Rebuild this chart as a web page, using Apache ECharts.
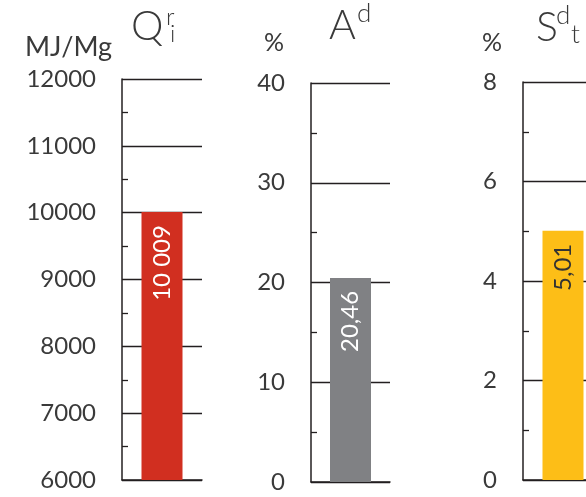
<!DOCTYPE html>
<html>
<head>
<meta charset="utf-8">
<script src="https://cdn.jsdelivr.net/npm/echarts@6/dist/echarts.min.js"></script>
<style>
  html, body { margin: 0; padding: 0; background: #fff; }
  #chart { width: 586px; height: 497px; }
</style>
</head>
<body>
<div id="chart"></div>
<script>
// Three fuel-quality indicators, each on its own small panel
const indicators = ['Qri', 'Ad', 'Sdt'];
const values = [10009, 20.46, 5.01];
const units = ['MJ/Mg', '%', '%'];
const axisMin = [6000, 0, 0];
const axisMax = [12000, 40, 8];
const axisStep = [1000, 10, 2];
const barColors = ['#D12F20', '#808184', '#FDBE17'];
const labelColors = ['#ffffff', '#ffffff', '#333333'];

const FONT = 'Lato, "Open Sans", sans-serif';
const INK = '#231F20';
const TEXT = '#3a3a3a';

// Panel frames (pixel layout)
const panels = [
  { left: 122, top: 79, width: 80, height: 401 },
  { left: 311, top: 83, width: 79, height: 399 },
  { left: 523, top: 82, width: 80, height: 398 }
];

// Decimal comma and a space as thousands separator
function fmt(v) {
  const parts = String(v).split('.');
  const intPart = parts[0].replace(/\B(?=(\d{3})+(?!\d))/g, ' ');
  return parts.length > 1 ? intPart + ',' + parts[1] : intPart;
}

const chart = echarts.init(document.getElementById('chart'), null, { renderer: 'canvas' });

const grid = panels.map(p => ({
  left: p.left, top: p.top, width: p.width, height: p.height,
  containLabel: false, outerBoundsMode: 'none'
}));

const xAxis = indicators.map((name, i) => ({
  type: 'category',
  gridIndex: i,
  data: [name],
  axisLine: { show: true, lineStyle: { color: INK, width: 1.5 } },
  axisTick: { show: false },
  axisLabel: { show: false }
}));

const yAxis = indicators.map((name, i) => ({
  type: 'value',
  gridIndex: i,
  min: axisMin[i],
  max: axisMax[i],
  interval: axisStep[i],
  axisLine: { show: true, lineStyle: { color: INK, width: 1.5 } },
  axisTick: { show: false, inside: true },
  minorTick: { show: true, splitNumber: 2, length: 6, lineStyle: { color: INK, width: 1.3 } },
  splitLine: { show: true, lineStyle: { color: INK, width: 1.3 } },
  axisLabel: {
    margin: 26,
    fontSize: 24,
    fontFamily: FONT,
    fontWeight: 'normal',
    color: TEXT,
    formatter: v => String(v)
  }
}));

const series = indicators.map((name, i) => ({
  type: 'bar',
  xAxisIndex: i,
  yAxisIndex: i,
  data: [values[i]],
  barWidth: 41,
  itemStyle: { color: barColors[i] },
  label: {
    show: true,
    position: 'insideTop',
    distance: 13,
    rotate: 90,
    align: 'right',
    verticalAlign: 'middle',
    fontSize: 24,
    fontFamily: FONT,
    fontWeight: 'normal',
    color: labelColors[i],
    formatter: p => fmt(p.value)
  }
}));

// Panel headings with super/subscripts, and unit captions
const textStyle = (text, size, weight) => ({
  text, fill: TEXT, font: (weight || 'normal') + ' ' + size + 'px ' + FONT
});
const graphic = [
  { type: 'text', left: 25, top: 34, style: textStyle(units[0], 27) },
  { type: 'text', left: 264, top: 30, style: textStyle(units[1], 25) },
  { type: 'text', left: 482, top: 30, style: textStyle(units[2], 25) },

  { type: 'text', left: 131, top: 6, style: textStyle('Q', 41, 300) },
  { type: 'text', left: 166, top: 5, style: textStyle('r', 24, 300) },
  { type: 'text', left: 170, top: 22, style: textStyle('i', 24, 300) },

  { type: 'text', left: 329, top: 5, style: textStyle('A', 41, 300) },
  { type: 'text', left: 357, top: 1, style: textStyle('d', 26, 300) },

  { type: 'text', left: 536, top: 7, style: textStyle('S', 41, 300) },
  { type: 'text', left: 556, top: 3, style: textStyle('d', 26, 300) },
  { type: 'text', left: 571, top: 22, style: textStyle('t', 26, 300) }
];

chart.setOption({
  animation: false,
  backgroundColor: '#ffffff',
  grid,
  xAxis,
  yAxis,
  series,
  graphic
});
</script>
</body>
</html>
